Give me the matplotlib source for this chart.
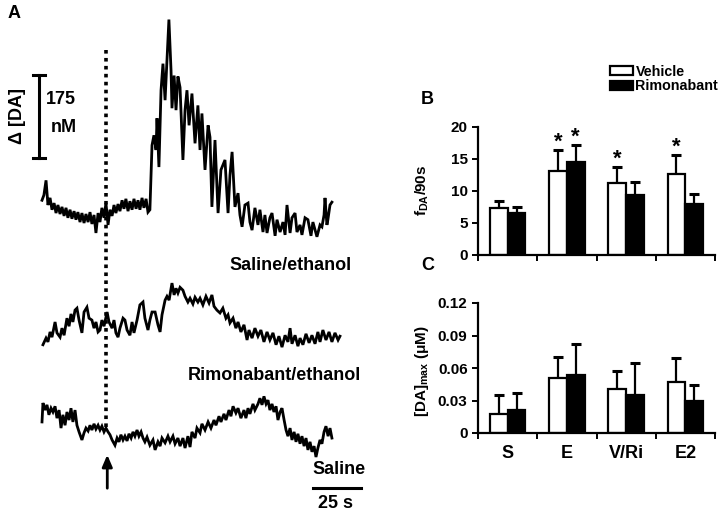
import matplotlib
matplotlib.use("Agg")
import matplotlib.pyplot as plt
import numpy as np

plt.rcParams['font.family'] = ['Liberation Sans', 'DejaVu Sans']
plt.rcParams['font.weight'] = 'bold'
plt.rcParams['mathtext.fontset'] = 'custom'
plt.rcParams['mathtext.rm'] = 'Liberation Sans'
plt.rcParams['mathtext.bf'] = 'Liberation Sans:bold'
plt.rcParams['mathtext.default'] = 'bf'

# ---------------- Panel A traces (time in s, delta DA in nM) ----------------
t_sal_eth = [0, 1, 2.1, 3.1, 4.2, 5.2, 6.3, 7.3, 8.3, 9.4, 10.4, 11.5, 12.5, 13.5, 14.6, 15.6,
             16.7, 17.7, 18.7, 19.8, 20.8, 21.9, 22.9, 24, 25, 26, 27.1, 28.1, 29.2, 30.2, 31.2,
             32.3, 33.3, 34.4, 35.4, 36.5, 37.5, 38.5, 39.6, 40.6, 41.7, 42.7, 43.7, 44.8, 45.8,
             46.9, 47.9, 49, 50, 51, 52.1, 53.1, 54.2, 55.2, 56.2, 57.3, 58.3, 59.4, 59.9, 60.9,
             62, 63, 64.1, 65.1, 66.1, 67.2, 67.7, 68.8, 69.8, 70.8, 71.9, 73.4, 74.5, 75.5, 76.6,
             78.1, 79.7, 81.2, 82.3, 83.3, 84.9, 86.5, 87.5, 88.5, 90.1, 91.7, 93.2, 95.3, 96.9,
             97.9, 99, 100.5, 102.1, 103.1, 104.2, 105.7, 107.3, 108.3, 109.4, 110.9, 112.5, 113.5,
             115.1, 116.1, 117.2, 118.7, 119.8, 121.4, 122.4, 124, 125.5, 126.6, 127.6, 129.2,
             130.2, 131.8, 132.8, 134.4, 135.4, 137, 138.5, 140.1, 141.1, 143.2, 144.8, 145.8,
             146.9, 147.4, 148.4, 148.9, 150, 151]
v_sal_eth = [10, 21, 52, 0, 15, -10, 4, -17, 0, -19, -4, -23, -6, -27, -10, -29,
             -13, -31, -15, -36, -17, -38, -19, -36, -15, -40, -21, -59, -17, -36, -6,
             -27, 4, -42, -10, -23, 0, -17, 2, -13, 10, -8, 13, -13, 8,
             -10, 13, -8, 10, -10, 15, -6, 13, -15, -10, 126, 147, 116, 183, 80,
             242, 298, 221, 305, 391, 284, 204, 273, 200, 271, 248, 95, 200, 242, 168,
             235, 130, 210, 116, 193, 74, 168, 143, -4, 137, -17, 74, 95, -17,
             63, 112, -4, 25, -21, -46, 0, 4, -36, -53, -6, -42, -10,
             -57, -21, -59, -27, -17, -65, -31, -57, -36, -63, 0, -59,
             -27, -17, -57, -42, -63, -27, -31, -65, -36, -67, -42, -46,
             -21, 15, -42, -31, 0, 6]

t_rim_eth = [0.5, 2.1, 3.1, 4.2, 5.2, 6.8, 7.8, 9.4, 10.4, 11.5, 13, 14.1, 15.1, 16.1, 17.2,
             18.2, 19.3, 20.8, 21.9, 23.4, 24.5, 26, 27.1, 28.1, 29.2, 30.2, 31.2, 32.3, 33.9,
             34.9, 36.5, 37.5, 38.5, 39.6, 40.6, 42.2, 43.2, 44.3, 45.8, 46.9, 47.9, 49.5, 51,
             52.6, 53.6, 55.2, 56.2, 57.3, 58.9, 60.4, 61.5, 62.5, 64.1, 65.1, 66.2, 67.7, 68.8,
             69.8, 70.8, 71.9, 73.4, 74.5, 76, 77.1, 78.6, 79.7, 81.2, 82.3, 83.8, 85.4, 87,
             88.5, 89.6, 91.1, 92.7, 94.2, 95.8, 96.9, 97.9, 99.5, 101, 102.1, 103.6, 105.2,
             106.8, 107.8, 109.4, 110.9, 112.5, 114, 115.6, 117.2, 118.7, 120.3, 121.9, 123.4,
             125, 126.6, 128.1, 129.2, 130.2, 131.8, 133.3, 134.4, 135.9, 137.5, 139.1, 140.6,
             142.2, 143.7, 144.8, 146.3, 147.9, 149.5, 151, 152.6, 154.2, 155.2]
v_rim_eth = [-10, 4, -4, 17, 6, 38, 15, 6, 25, 10, 46, 29, 55, 38, 63,
             67, 42, 15, 59, 69, 46, 42, 25, 38, 17, 21, 42, 29, 59,
             38, 25, 42, 15, 6, 25, 46, 42, 21, 10, 38, 15, 42, 74,
             80, 46, 21, 42, 59, 59, 32, 17, 53, 84, 92, 84, 120, 95,
             109, 99, 111, 105, 92, 80, 88, 76, 90, 80, 88, 74, 92, 78,
             95, 71, 63, 57, 67, 46, 53, 36, 46, 25, 38, 17, 32,
             0, 21, 4, 25, 8, 21, -4, 17, 0, 15, -10, 8,
             -15, 10, -4, 25, -8, 10, -13, 4, -10, 13, -6, 10,
             -8, 17, -4, 21, 0, 17, -4, 15, 0, 8]

t_saline = [0, 0.5, 1.6, 2.6, 3.6, 4.7, 5.7, 6.8, 7.8, 8.9, 9.9, 10.9, 12, 13, 14.1, 15.1,
            16.1, 17.2, 18.2, 19.3, 20.8, 21.9, 22.9, 24, 25, 26, 27.1, 28.1, 29.2, 30.2, 31.2,
            32.3, 33.3, 34.4, 35.4, 36.5, 38, 39.1, 40.1, 41.1, 42.2, 43.2, 44.3, 45.3, 46.4,
            47.4, 48.4, 49.5, 50.5, 51.6, 52.6, 53.6, 54.7, 56.2, 57.8, 58.9, 60.4, 61.5, 62.5,
            64.1, 65.6, 66.7, 68.2, 69.3, 70.8, 71.9, 73.4, 74.5, 76, 77.1, 78.1, 79.7, 80.7,
            82.3, 83.3, 84.9, 86.5, 88, 89.6, 90.6, 92.2, 93.2, 94.8, 95.8, 97.4, 98.4, 99.5,
            101, 102.1, 103.6, 105.2, 106.2, 107.3, 108.3, 109.9, 110.9, 112.5, 113.5, 114.6,
            115.6, 116.7, 117.7, 118.7, 119.8, 120.8, 121.9, 122.9, 124, 125, 126.1, 127.1,
            128.1, 129.2, 130.2, 131.3, 132.3, 133.3, 134.4, 135.4, 136.5, 137.5, 138.5, 139.6,
            140.6, 141.7, 142.7, 143.7, 144.8, 145.8, 146.9, 147.9, 149, 150, 151]
v_saline = [17, 57, 42, 53, 32, 46, 38, 50, 25, 42, 4, 32, 10, 38, 21, 46,
            17, 42, 10, -4, -21, -6, 4, -2, 10, 0, 13, 2, 10, 0, 8,
            -4, 4, -4, -10, -21, -32, -17, -25, -10, -21, -13, -23, -8, -17,
            -4, -13, 0, -13, -4, -17, -25, -15, -32, -21, -42, -25, -34, -17,
            -27, -13, -25, -13, -29, -17, -34, -17, -38, -13, -36, -4, -17, 4,
            -6, 13, 0, 17, 4, 21, 10, 29, 17, 34, 21, 42, 29, 50,
            36, 46, 25, 42, 25, 46, 34, 55, 42, 55, 67, 53,
            71, 55, 63, 42, 55, 38, 50, 21, 38, 46, 21, 0,
            -13, 4, -21, -4, -25, -8, -29, -13, -34, -17, -42, -25,
            -46, -34, -57, -38, -21, -29, -4, 8, -13, 4, -17]

trace_labels = ['Saline/ethanol', 'Rimonabant/ethanol', 'Saline']
injection_time = 33.5      # s (dotted line / arrow)
scale_time = 25            # s
scale_conc = 175           # nM

# ---------------- Panels B and C ----------------
groups = ['S', 'E', 'V/Ri', 'E2']
series = ['Vehicle', 'Rimonabant']
fda_vehicle = [7.4, 13.1, 11.3, 12.6]
fda_vehicle_err = [1.05, 3.3, 2.5, 3.0]
fda_rimon = [6.6, 14.5, 9.3, 7.9]
fda_rimon_err = [0.9, 2.7, 2.1, 1.7]
fda_sig_vehicle = [False, True, True, True]
fda_sig_rimon = [False, True, False, False]

damax_vehicle = [0.018, 0.051, 0.041, 0.047]
damax_vehicle_err = [0.017, 0.019, 0.016, 0.022]
damax_rimon = [0.021, 0.054, 0.035, 0.030]
damax_rimon_err = [0.016, 0.028, 0.030, 0.014]

# ---------------- Figure ----------------
W, H = 720, 514
fig = plt.figure(figsize=(W / 100, H / 100), dpi=100)

s_per_px = scale_time / 48.0
nm_per_px = scale_conc / 83.0
x0_px = 42
axA = fig.add_axes([0, 0, 380 / W, 1])
axA.set_xlim(-x0_px * s_per_px, (380 - x0_px) * s_per_px)
axA.set_ylim(0, H * nm_per_px)
axA.axis('off')

def Y(px):
    return (H - px) * nm_per_px

offsets = [Y(205), Y(340), Y(430)]
for t, v, off in zip([t_sal_eth, t_rim_eth, t_saline], [v_sal_eth, v_rim_eth, v_saline], offsets):
    axA.plot(t, np.array(v) + off, color='black', lw=2.0, solid_joinstyle='miter')

# dotted injection line
axA.plot([injection_time, injection_time], [Y(50), Y(428)], color='black', lw=2.6,
         linestyle=(0, (1, 1.2)), dash_capstyle='butt')
# arrow
axA.annotate('', xy=(injection_time + 0.5, Y(452)), xytext=(injection_time + 0.5, Y(491)),
             arrowprops=dict(arrowstyle='-|>,head_length=0.7,head_width=0.3', color='black', lw=2))

# vertical scale bar
xs = -1.6
ytop = Y(75)
axA.plot([xs, xs], [ytop, ytop - scale_conc], color='black', lw=2.2)
for yy in [ytop, ytop - scale_conc]:
    axA.plot([xs - 3, xs + 3], [yy, yy], color='black', lw=2.2)
fig.text(61 / W, 1 - 100 / H, f'{scale_conc}', ha='center', va='center', fontsize=13, fontweight='bold')
fig.text(64 / W, 1 - 128 / H, 'nM', ha='center', va='center', fontsize=13, fontweight='bold')
fig.text(17 / W, 1 - 116 / H, 'Δ [DA]', ha='center', va='center', rotation=90, fontsize=13,
         fontweight='bold')

# horizontal scale bar
xb = (313 - x0_px) * s_per_px
axA.plot([xb, xb + scale_time], [Y(488), Y(488)], color='black', lw=2.2, clip_on=False)
fig.text(336 / W, 1 - 503 / H, f'{scale_time} s', ha='center', va='center', fontsize=13,
         fontweight='bold')

fig.text(291 / W, 1 - 266 / H, trace_labels[0], ha='center', va='center', fontsize=13, fontweight='bold')
fig.text(274 / W, 1 - 375 / H, trace_labels[1], ha='center', va='center', fontsize=13, fontweight='bold')
fig.text(339 / W, 1 - 470 / H, trace_labels[2], ha='center', va='center', fontsize=13, fontweight='bold')
fig.text(8 / W, 1 - 13 / H, 'A', ha='left', va='center', fontsize=13, fontweight='bold')
fig.text(421 / W, 1 - 100 / H, 'B', ha='left', va='center', fontsize=13, fontweight='bold')
fig.text(421 / W, 1 - 265 / H, 'C', ha='left', va='center', fontsize=13, fontweight='bold')

axL, axR = 478, 715
axB = fig.add_axes([axL / W, 1 - 255 / H, (axR - axL) / W, 128 / H])
axC = fig.add_axes([axL / W, 1 - 433 / H, (axR - axL) / W, 130 / H])

x = np.arange(len(groups)) + 0.5
bw = 0.3

def draw_bars(ax, veh, veh_err, rim, rim_err):
    b1 = ax.bar(x - bw / 2, veh, bw, color='white', edgecolor='black', linewidth=1.6, zorder=2,
                label=series[0])
    b2 = ax.bar(x + bw / 2, rim, bw, color='black', edgecolor='black', linewidth=1.6, zorder=2,
                label=series[1])
    ax.errorbar(x - bw / 2, veh, yerr=[np.zeros(len(veh)), veh_err], fmt='none', ecolor='black',
                elinewidth=1.6, capsize=3.5, capthick=2.2, zorder=1)
    ax.errorbar(x + bw / 2, rim, yerr=[np.zeros(len(rim)), rim_err], fmt='none', ecolor='black',
                elinewidth=1.6, capsize=3.5, capthick=2.2, zorder=1)
    ax.set_xlim(0, len(groups))
    ax.set_xticks(np.arange(len(groups) + 1))
    ax.set_xticklabels([])
    for s in ['top', 'right']:
        ax.spines[s].set_visible(False)
    for s in ['left', 'bottom']:
        ax.spines[s].set_linewidth(1.6)
    ax.tick_params(axis='both', direction='out', width=1.4, length=4, labelsize=11)
    return b1, b2

b1, b2 = draw_bars(axB, fda_vehicle, fda_vehicle_err, fda_rimon, fda_rimon_err)
axB.set_ylim(0, 20)
axB.set_yticks([0, 5, 10, 15, 20])
axB.set_yticklabels(['0', '5', '10', '15', '20'], fontweight='bold')
for i in range(len(groups)):
    if fda_sig_vehicle[i]:
        axB.text(x[i] - bw / 2, fda_vehicle[i] + fda_vehicle_err[i] + 1.2, '*', ha='center',
                 va='center', fontsize=16, fontweight='bold')
    if fda_sig_rimon[i]:
        axB.text(x[i] + bw / 2, fda_rimon[i] + fda_rimon_err[i] + 1.2, '*', ha='center',
                 va='center', fontsize=16, fontweight='bold')
axB.set_ylabel('f$_{DA}$/90s', fontsize=11, fontweight='bold')
axB.yaxis.set_label_coords(-0.2, 0.5)

draw_bars(axC, damax_vehicle, damax_vehicle_err, damax_rimon, damax_rimon_err)
axC.set_ylim(0, 0.12)
axC.set_yticks([0, 0.03, 0.06, 0.09, 0.12])
axC.set_yticklabels(['0', '0.03', '0.06', '0.09', '0.12'], fontweight='bold')
axC.set_ylabel('[DA]$_{max}$ (μM)', fontsize=11, fontweight='bold')
axC.yaxis.set_label_coords(-0.2, 0.48)
for xi, g in zip(x, groups):
    axC.text(xi, -0.011, g, ha='center', va='top', fontsize=13, fontweight='bold',
             transform=axC.transData)

fig.legend([b1, b2], series, loc='upper left', bbox_to_anchor=(604 / W, 1 - 59 / H), frameon=False,
           handlelength=1.6, handleheight=0.55, labelspacing=0.05, handletextpad=0.2,
           borderaxespad=0, prop={'weight': 'bold', 'size': 10.3})

fig.savefig('out.png', dpi=100)
